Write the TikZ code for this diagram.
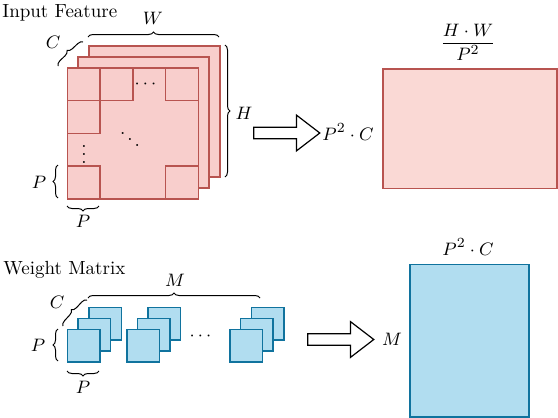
\documentclass[tikz,border=0pt]{standalone}
\usepackage{amsmath}
\usepackage{tikz}
\usetikzlibrary{shapes.arrows, positioning, decorations.pathreplacing}
\definecolor{IFFill}{HTML}{F8CECC}
\definecolor{IFLine}{HTML}{B85450}
\definecolor{OutFill}{HTML}{FAD9D5}
\definecolor{WMFill}{HTML}{B1DDF0}
\definecolor{WMLine}{HTML}{10739E}

\begin{document}
\begin{tikzpicture}[x=0.5pt, y=-0.5pt,
          font=\fontsize{9.5}{11}\selectfont,
          redsq/.style={rectangle, draw=IFLine, fill=IFFill, line width=0.75pt,
                        minimum size=65.5pt, inner sep=0pt, anchor=north west},
          cell/.style={rectangle, draw=IFLine, line width=0.75pt,
                       minimum size=16.375pt, inner sep=0pt, anchor=north west},
          bluesq/.style={rectangle, draw=WMLine, fill=WMFill, line width=0.75pt,
                         minimum size=16.25pt, inner sep=0pt, anchor=north west},
          dotz/.style={inner sep=0pt},
          brc/.style={decorate, decoration={brace, amplitude=2.5pt}, line width=0.5pt},
          bigarrow/.style={single arrow, draw, fill=white, line width=0.6pt,
                           minimum height=33pt, inner sep=2.6pt,
                           single arrow head extend=6pt, single arrow tip angle=75}
        ]
        \useasboundingbox (0,0) rectangle (558,418);

        % Input feature stack
        \node[anchor=base west, inner sep=0pt] (iftitle) at (2,17) {Input Feature};
        \node[redsq] (ifback)  at (88,45)   {};
        \node[redsq] (ifmid)   at (77.3,56) {};
        \node[redsq] (iffront) at (66.7,67) {};
        \foreach \c/\r in {0/0, 1/0, 3/0, 0/1, 0/3, 3/3}
          \node[cell] (cell\c\r) at ({66.7+32.75*\c},{67+32.75*\r}) {};
        \node[dotz] (hdots) at (147,84)  {$\cdots$};
        \node[dotz] (vdots) at (84,148)  {$\vdots$};
        \node[dotz] (ddots) at (130,133) {$\ddots$};

        \draw[brc] (88,37) -- (219,37);
        \node (lW) at (153,18) {$W$};
        \draw[brc] (225,45) -- (225,177);
        \node (lH) at (244,113) {$H$};
        \draw[brc] (58,66) -- (83,42);
        \node (lC) at (53,42) {$C$};
        \draw[brc] (58,198) -- (58,165);
        \node (lP1) at (39,182) {$P$};
        \draw[brc] (99,206) -- (67,206);
        \node (lP2) at (83,221) {$P$};

        % Unfolded feature
        \node[bigarrow] (arrA) at (283,133) {};
        \node (rowA) at (348,132) {$P^2\cdot C$};
        \node[rectangle, draw=IFLine, fill=OutFill, line width=0.75pt,
              minimum width=87pt, minimum height=59.75pt, inner sep=0pt,
              anchor=north west] (outmat) at (382,68) {};
        \node (colA) at (468,42) {$\dfrac{H\cdot W}{P^2}$};

        % Weight matrix
        \node[anchor=base west, inner sep=0pt] (wmtitle) at (3,274) {Weight Matrix};
        \foreach \i/\dx in {1/0, 2/59.3, 3/162.6} {
          \node[bluesq] (w\i back)  at (88+\dx,306.7)  {};
          \node[bluesq] (w\i mid)   at (77.3+\dx,317.7) {};
          \node[bluesq] (w\i front) at (66.7+\dx,328.7) {};
        }
        \node[dotz] (wdots) at (202,336) {$\cdots$};

        \draw[brc] (88,298) -- (260,298);
        \node (lM) at (175,280) {$M$};
        \draw[brc] (63,326) -- (87,300);
        \node (lC2) at (57,302) {$C$};
        \draw[brc] (58,361) -- (58,329);
        \node (lP3) at (38,345) {$P$};
        \draw[brc] (99,371) -- (67,371);
        \node (lP4) at (83,387) {$P$};

        % Flattened weights
        \node[bigarrow] (arrB) at (337,339.5) {};
        \node (rowB) at (392,339) {$M$};
        \node[rectangle, draw=WMLine, fill=WMFill, line width=0.75pt,
              minimum width=59.5pt, minimum height=76.25pt, inner sep=0pt,
              anchor=north west] (wmat) at (409,263.5) {};
        \node (colB) at (468,247) {$P^2\cdot C$};
      \end{tikzpicture}
\end{document}
